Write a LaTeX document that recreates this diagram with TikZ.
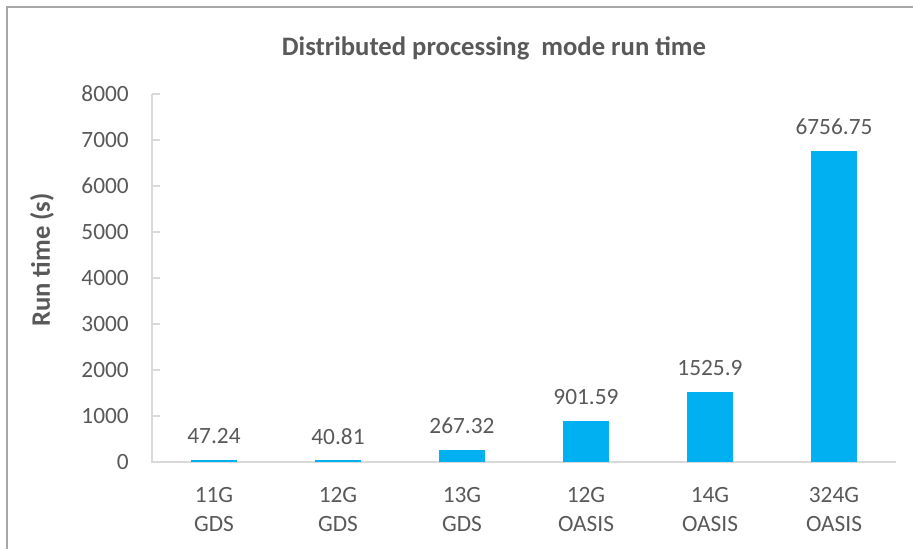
\documentclass[tikz,border=0pt]{standalone}
\usepackage{fontspec}
\setmainfont{Carlito}
\usetikzlibrary{positioning}
\definecolor{barblue}{HTML}{00B0F0}
\definecolor{labelgray}{HTML}{595959}
\definecolor{framegray}{HTML}{A6A6A6}
\definecolor{axisgray}{HTML}{D9D9D9}

\begin{document}
\begin{tikzpicture}[x=0.75pt,y=-0.75pt,
  lbl/.style={text=labelgray,font=\fontsize{17.5}{21.75}\selectfont,inner sep=0pt,align=center},
  ttl/.style={text=labelgray,font=\fontsize{20}{24}\selectfont\bfseries,inner sep=0pt},
  axisline/.style={axisgray,line width=1pt}]
  \useasboundingbox (0,0) rectangle (913,549);
  % chart frame, cut off at the right and bottom
  \draw[framegray,line width=1.5pt] (7,549) -- (7,7.5) -- (913,7.5);
  \node[ttl] (title) at (494,48) {Distributed processing\ \ mode run time};
  \node[ttl,rotate=90] (ylab) at (42,260) {Run time (s)};
  % axes
  \coordinate (origin) at (152,462);
  \coordinate (ytop) at (152,94);
  \coordinate (xend) at (896,462);
  \draw[axisline] (ytop) -- (origin) -- (xend);
  \foreach \t in {0,1000,...,8000}{
    \coordinate (tick\t) at (152,{462-0.046*\t});
    \ifnum\t>0 \draw[axisline] (tick\t) -- ++(8,0); \fi
    \node[lbl,anchor=east] (ylbl\t) at ([xshift=-17.25pt]tick\t) {\t};
  }
  % bars with value and category labels
  \foreach \v/\cat [count=\i] in {47.24/11G\\GDS,40.81/12G\\GDS,267.32/13G\\GDS,
      901.59/12G\\OASIS,1525.9/14G\\OASIS,6756.75/324G\\OASIS}{
    \fill[barblue] ({90+124*\i-23},462) rectangle ({90+124*\i+23},{462-0.046*\v});
    \node[lbl] (val\i) at ({90+124*\i},{462-0.046*\v-24}) {\v};
    \node[lbl] (cat\i) at ({90+124*\i},510) {\cat};
  }
\end{tikzpicture}
\end{document}
